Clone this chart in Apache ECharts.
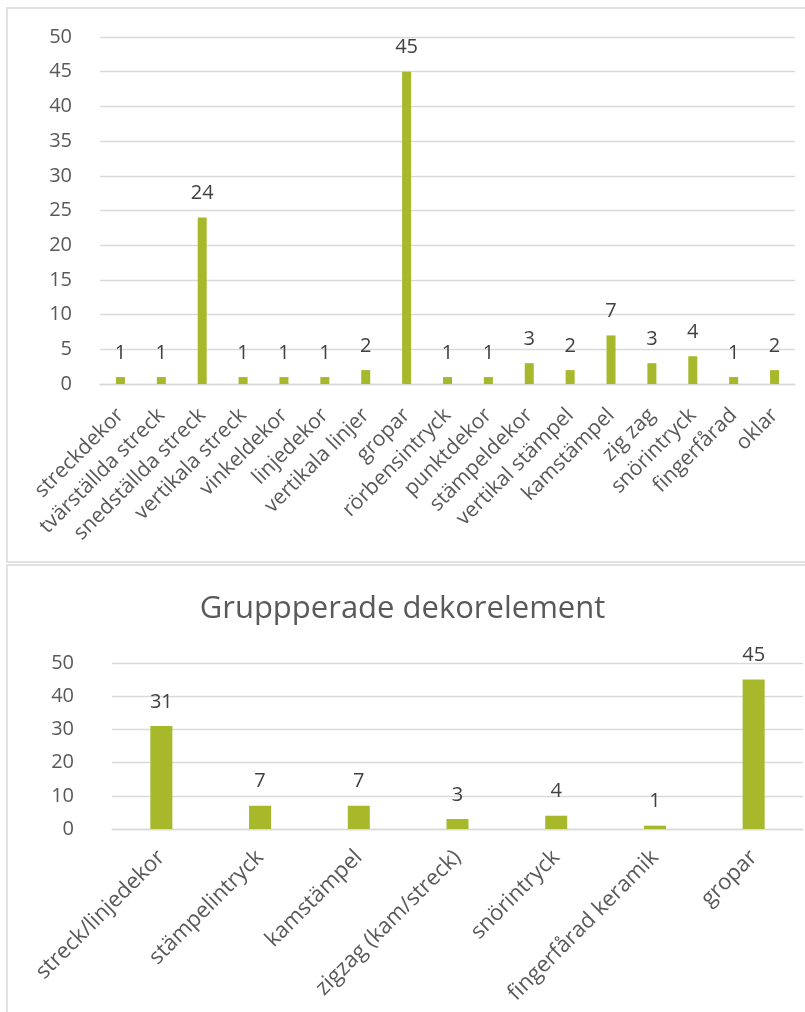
<!DOCTYPE html>
<html>
<head>
<meta charset="utf-8">
<script src="https://cdn.jsdelivr.net/npm/echarts@6/dist/echarts.min.js"></script>
<style>
  html, body { margin: 0; padding: 0; background: #fff; }
  #main { width: 805px; height: 1012px; }
</style>
</head>
<body>
<div id="main"></div>
<script>
// dekorelement, alla typer
var typer = ['streckdekor', 'tvärställda streck', 'snedställda streck', 'vertikala streck',
    'vinkeldekor', 'linjedekor', 'vertikala linjer', 'gropar', 'rörbensintryck', 'punktdekor',
    'stämpeldekor', 'vertikal stämpel', 'kamstämpel', 'zig zag', 'snörintryck', 'fingerfårad', 'oklar'];
var typAntal = [1, 1, 24, 1, 1, 1, 2, 45, 1, 1, 3, 2, 7, 3, 4, 1, 2];

// grupperade
var grupper = ['streck/linjedekor', 'stämpelintryck', 'kamstämpel', 'zigzag (kam/streck)',
    'snörintryck', 'fingerfårad keramik', 'gropar'];
var gruppAntal = [31, 7, 7, 3, 4, 1, 45];

var titel = 'Gruppperade dekorelement';

var farg = '#A7B82A';
var grid = '#D9D9D9';
var text = '#595959';
var font = 'Open Sans';

var myChart = echarts.init(document.getElementById('main'), null, { renderer: 'canvas' });

var option = {
    animation: false,
    textStyle: { fontFamily: font },
    title: {
        text: titel,
        left: 'center',
        top: 589,
        textStyle: { fontFamily: font, fontSize: 31, fontWeight: 'normal', color: text }
    },
    graphic: [
        { type: 'rect', shape: { x: 7, y: 8, width: 810, height: 554 },
          style: { fill: 'none', stroke: grid, lineWidth: 1.5 } },
        { type: 'rect', shape: { x: 7, y: 565, width: 810, height: 470 },
          style: { fill: 'none', stroke: grid, lineWidth: 1.5 } }
    ],
    grid: [
        { left: 100, right: 10, top: 37, height: 347 },
        { left: 112, right: 2, top: 663, height: 166 }
    ],
    xAxis: [
        {
            type: 'category', gridIndex: 0, data: typer,
            axisLine: { lineStyle: { color: grid, width: 1.3 } },
            axisTick: { show: false },
            axisLabel: { interval: 0, rotate: 45, margin: 28, fontSize: 21, color: text, fontFamily: font }
        },
        {
            type: 'category', gridIndex: 1, data: grupper,
            axisLine: { lineStyle: { color: grid, width: 1.3 } },
            axisTick: { show: false },
            axisLabel: { interval: 0, rotate: 45, margin: 25, fontSize: 22, color: text, fontFamily: font }
        }
    ],
    yAxis: [
        {
            type: 'value', gridIndex: 0, min: 0, max: 50, interval: 5,
            axisLine: { show: false }, axisTick: { show: false },
            splitLine: { lineStyle: { color: grid, width: 1.3 } },
            axisLabel: { margin: 28, fontSize: 20, color: text, fontFamily: font }
        },
        {
            type: 'value', gridIndex: 1, min: 0, max: 50, interval: 10,
            axisLine: { show: false }, axisTick: { show: false },
            splitLine: { lineStyle: { color: grid, width: 1.3 } },
            axisLabel: { margin: 38, fontSize: 20, color: text, fontFamily: font }
        }
    ],
    series: [
        {
            type: 'bar', xAxisIndex: 0, yAxisIndex: 0, data: typAntal,
            barWidth: 9, itemStyle: { color: farg },
            label: { show: true, position: 'top', distance: 14, fontSize: 20, color: '#404040', fontFamily: font }
        },
        {
            type: 'bar', xAxisIndex: 1, yAxisIndex: 1, data: gruppAntal,
            barWidth: 22, itemStyle: { color: farg },
            label: { show: true, position: 'top', distance: 14, fontSize: 20, color: '#404040', fontFamily: font }
        }
    ]
};

myChart.setOption(option);
</script>
</body>
</html>
